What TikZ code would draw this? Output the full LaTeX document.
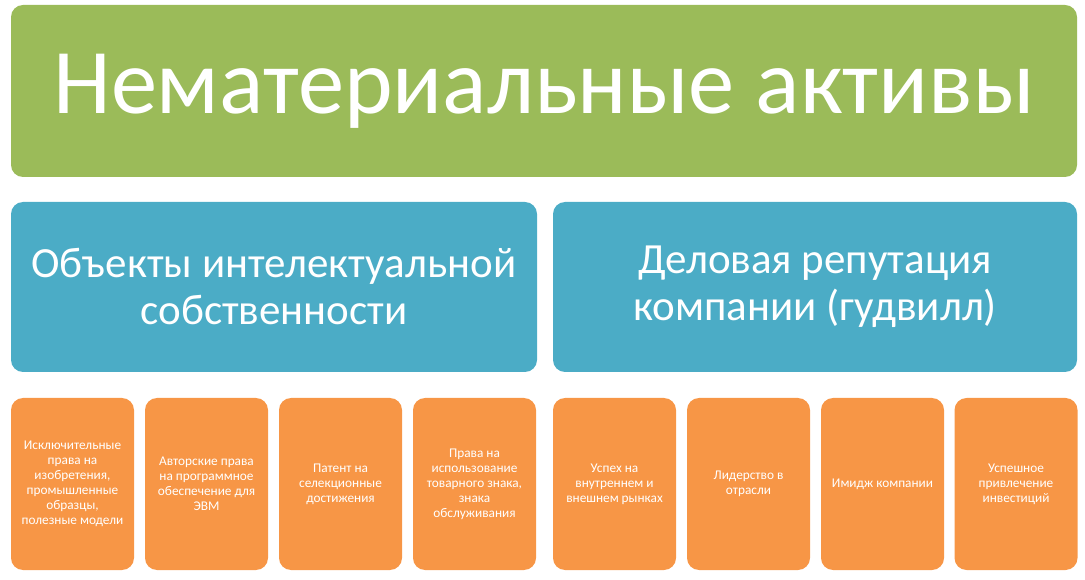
\documentclass[tikz,border=0pt]{standalone}
\usepackage{fontspec}
\setmainfont{Carlito}
\definecolor{navgreen}{RGB}{155,187,89}
\definecolor{navblue}{RGB}{75,172,198}
\definecolor{navorange}{RGB}{247,150,70}
\begin{document}
\begin{tikzpicture}[x=1pt,y=1pt,
  card/.style={rounded corners=12pt,inner sep=0pt,text=white,align=center},
  smallcard/.style={card,fill=navorange,minimum width=123pt,minimum height=172pt,font=\fontsize{13.3}{15}\selectfont}]
\useasboundingbox(0,0)rectangle(1085,579);
\node[card,fill=navgreen,minimum width=1066pt,minimum height=172pt,font=\fontsize{92.5}{100}\selectfont](title)at(544,488){Нематериальные активы};
\node[card,fill=navblue,minimum width=526pt,minimum height=170pt,font=\fontsize{43}{47}\selectfont](ois)at(274,292){Объекты интелектуальной\\собственности};
\node[card,fill=navblue,minimum width=524pt,minimum height=170pt,font=\fontsize{43}{47}\selectfont](goodwill)at(815,292){Деловая репутация\\компании (гудвилл)};
\node[smallcard](o1)at(72.5,95){Исключительные\\права на\\изобретения,\\промышленные\\образцы,\\полезные модели};
\node[smallcard](o2)at(206.5,95){Авторские права\\на программное\\обеспечение для\\ЭВМ};
\node[smallcard](o3)at(340.5,95){Патент на\\селекционные\\достижения};
\node[smallcard](o4)at(474.5,95){Права на\\использование\\товарного знака,\\знака\\обслуживания};
\node[smallcard](g1)at(614.5,95){Успех на\\внутреннем и\\внешнем рынках};
\node[smallcard](g2)at(748.5,95){Лидерство в\\отрасли};
\node[smallcard](g3)at(882.5,95){Имидж компании};
\node[smallcard](g4)at(1016,95){Успешное\\привлечение\\инвестиций};
\end{tikzpicture}
\end{document}
